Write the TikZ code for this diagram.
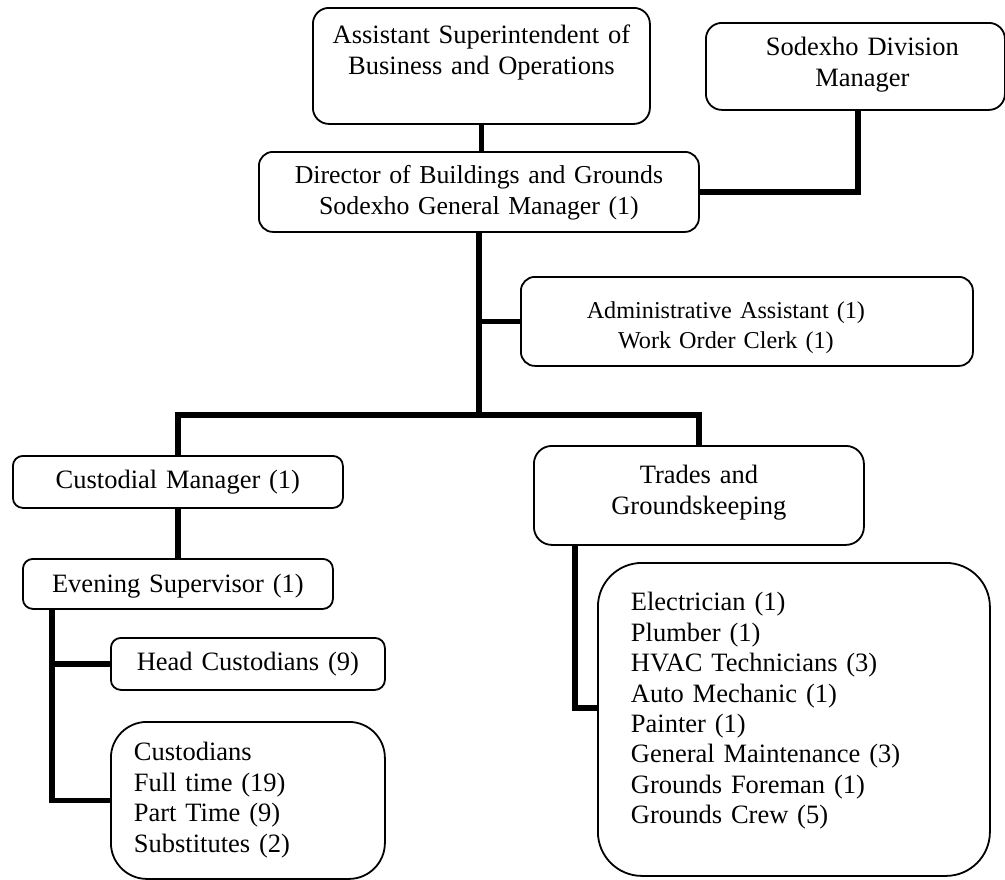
\documentclass[tikz,border=0pt]{standalone}
\usepackage{fontspec}
\setmainfont{Liberation Serif}
\begin{document}
\begin{tikzpicture}[x=0.5pt,y=-0.5pt,
  orgbox/.style={draw, line width=0.9pt, anchor=north west, inner sep=0pt,
    align=center, font=\fontsize{13.25pt}{15.2pt}\selectfont},
  listbox/.style={orgbox, align=left, inner ysep=0pt},
  conn/.style={line width=2.6pt}]
\useasboundingbox (0,0) rectangle (1005,879);

% boxes
\node[orgbox, rounded corners=8pt, text width=168.5pt, text height=18pt, text depth=40pt]
  (asst) at (312,7) {Assistant Superintendent of\\Business and Operations};
\node[orgbox, rounded corners=8pt, text width=149.5pt, text height=16.5pt, text depth=27pt]
  (sodexho) at (705,22) {\hspace*{7pt}Sodexho Division\\\hspace*{7pt}Manager};
\node[orgbox, rounded corners=7pt, text width=220pt, text height=16pt, text depth=24pt,
  font=\fontsize{12.9pt}{15.4pt}\selectfont]
  (director) at (258,151) {Director of Buildings and Grounds\\Sodexho General Manager (1)};
\node[orgbox, rounded corners=7pt, text width=226pt, text height=21pt, text depth=23.5pt,
  font=\fontsize{12.1pt}{14.6pt}\selectfont]
  (admin) at (520,276) {\hspace*{-21pt}Administrative Assistant (1)\\\hspace*{-21pt}Work Order Clerk (1)};
\node[orgbox, rounded corners=5pt, text width=165pt, text height=16.5pt, text depth=9.5pt]
  (custmgr) at (12,455) {Custodial Manager (1)};
\node[orgbox, rounded corners=5pt, text width=155pt, text height=17pt, text depth=8pt]
  (evening) at (22,558) {Evening Supervisor (1)};
\node[orgbox, rounded corners=9pt, text width=165pt, text height=19pt, text depth=30.5pt]
  (trades) at (533,445) {Trades and\\Groundskeeping};
\node[orgbox, rounded corners=5pt, text width=137pt, text height=16.5pt, text depth=9.5pt]
  (headc) at (110,637) {Head Custodians (9)};
\node[listbox, rounded corners=18pt, inner xsep=11.5pt, text width=114pt, text height=19.5pt, text depth=59pt]
  (custodians) at (110,721) {Custodians\\Full time (19)\\Part Time (9)\\Substitutes (2)};
\node[listbox, rounded corners=22pt, inner xsep=16.5pt, text width=163pt, text height=24pt, text depth=132.5pt]
  (tradelist) at (597,562) {Electrician (1)\\Plumber (1)\\HVAC Technicians (3)\\Auto Mechanic (1)\\Painter (1)\\General Maintenance (3)\\Grounds Foreman (1)\\Grounds Crew (5)};

% routing points for the connectors
\coordinate (sdx) at (858,0);
\coordinate (bar) at (0,415);
\coordinate (evx) at (52,0);
\coordinate (trx) at (575,0);
\coordinate (trturn) at (0,708);

% connectors
\draw[conn] (asst.south) -- (asst.south |- director.north);
\draw[conn] (director.east) -| (sdx |- sodexho.south);
\draw[conn] (director.south) -- (director.south |- bar);
\draw[conn] (director.south |- admin.west) -- (admin.west);
\draw[conn] (custmgr.north) |- (trades.north |- bar) -- (trades.north);
\draw[conn] (custmgr.south) -- (evening.north);
\draw[conn] (evening.south -| evx) |- (custodians.west);
\draw[conn] (evx |- headc.west) -- (headc.west);
\draw[conn] (trades.south -| trx) |- (tradelist.west |- trturn);
\end{tikzpicture}
\end{document}
